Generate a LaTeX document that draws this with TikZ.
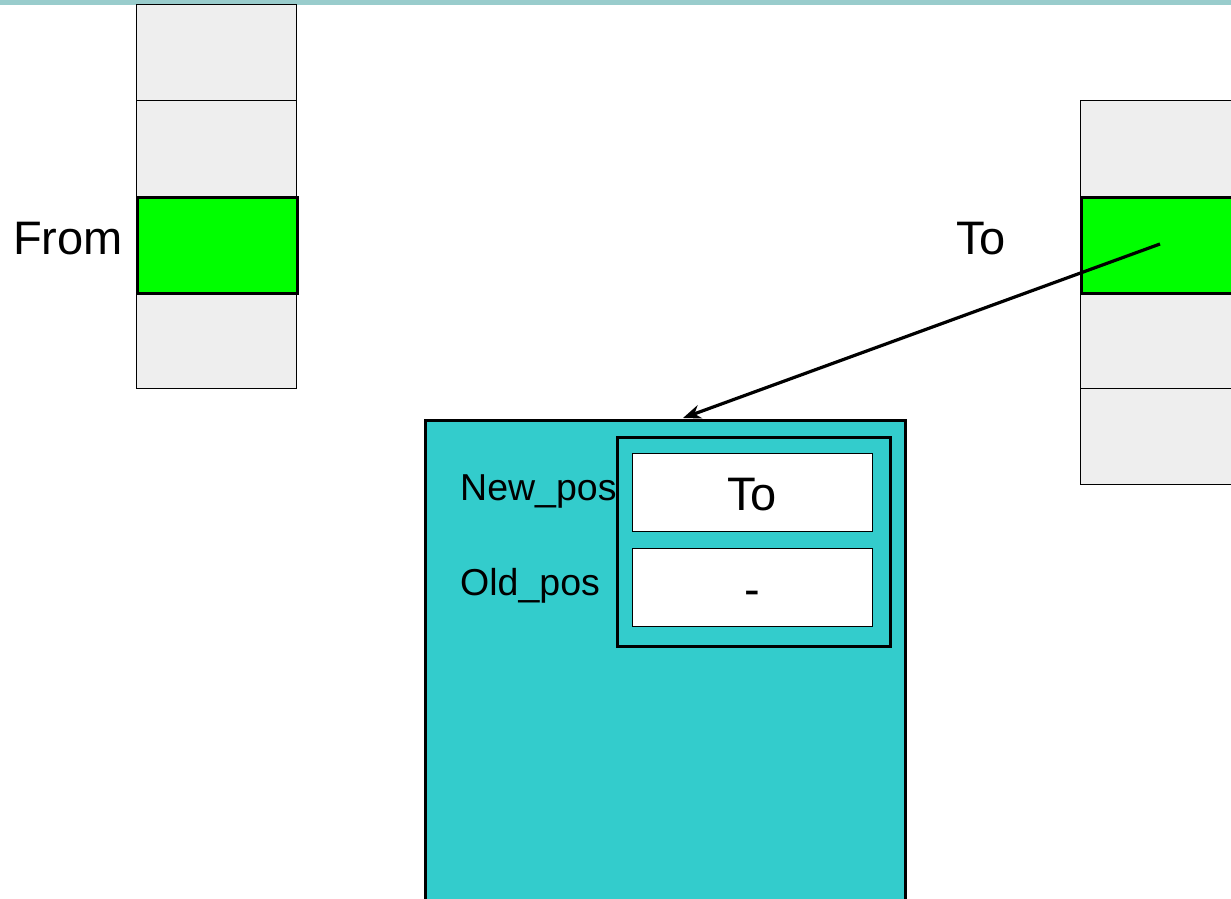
\documentclass[tikz,border=0pt]{standalone}
\usepackage{fontspec}
\setmainfont{Liberation Sans}
\usetikzlibrary{arrows.meta}
\definecolor{topbar}{HTML}{99CCCC}
\definecolor{cellgrey}{HTML}{EEEEEE}
\definecolor{hot}{HTML}{00FF00}
\definecolor{teal}{HTML}{33CCCC}
\tikzset{
  cell/.style={draw=black, line width=1pt, fill=cellgrey, minimum width=160pt, minimum height=96pt, inner sep=0pt, anchor=north west},
  hotcell/.style={cell, fill=hot, line width=3pt},
  slot/.style={draw=black, line width=1.2pt, fill=white, minimum width=240pt, minimum height=78pt, inner sep=0pt, anchor=north west},
  slottext/.style={inner sep=0pt, anchor=base, font=\fontsize{47}{50}\selectfont},
  lbl/.style={inner sep=0pt, anchor=base, font=\fontsize{47}{50}\selectfont},
  field/.style={inner sep=0pt, anchor=base west, font=\fontsize{37.5}{40}\selectfont},
}
\begin{document}
\begin{tikzpicture}[x=1pt, y=-1pt]
  \useasboundingbox (0,0) rectangle (1231,899);
  \clip (0,0) rectangle (1231,899);
  % top band
  \fill[topbar] (0,0) rectangle (1231,5);

  % left column
  \node[cell] (l1) at (136,4) {};
  \node[cell] (l2) at (136,100) {};
  \node[cell] (l4) at (136,292) {};
  \node[hotcell] (l3) at (136,196) {};
  \node[lbl, anchor=base east] (from) at (123,254) {From};

  % right column
  \node[cell] (r1) at (1080,100) {};
  \node[cell] (r3) at (1080,292) {};
  \node[cell] (r4) at (1080,388) {};
  \node[hotcell] (r2) at (1080,196) {};
  \node[lbl, anchor=base west] (to) at (956,254) {To};

  % structure
  \draw[fill=teal, line width=3pt] (425,420) rectangle (905,930);
  \coordinate (entry) at (683,418);
  \node[draw=black, line width=3pt, minimum width=273pt, minimum height=209pt, inner sep=0pt, anchor=north west] (pair) at (616,436) {};
  \node[slot] (newv) at (632,453) {};
  \node[slot] (oldv) at (632,548) {};
  \node[slottext] (newt) at (752,510) {To};
  \node[slottext] (oldt) at (752,605) {-};
  \node[field] (newl) at (460,500) {New\_pos};
  \node[field] (oldl) at (460,595) {Old\_pos};

  % pointer
  \coordinate (src) at (1160,244);
  \draw[line width=3.2pt, -{Stealth[length=18pt, width=14pt]}] (src) -- (entry);
\end{tikzpicture}
\end{document}
